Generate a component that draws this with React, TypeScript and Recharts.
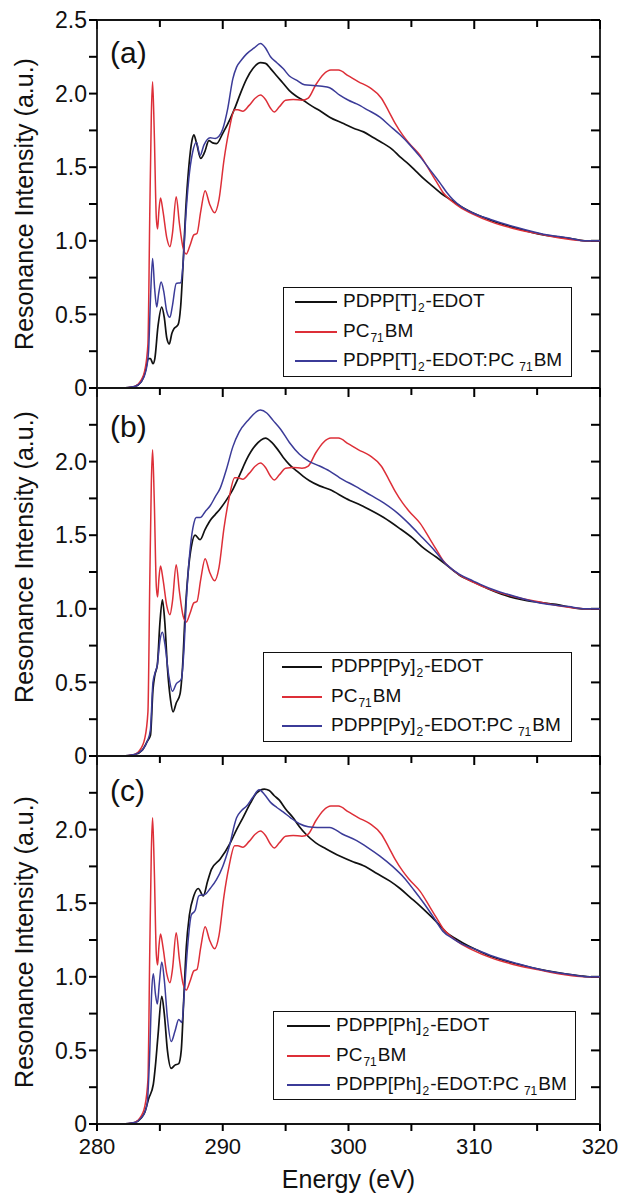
import React from 'react';
import { LineChart, Line, XAxis, YAxis, ReferenceLine, Legend } from 'recharts';

const FONT = '"Liberation Sans", Arial, Helvetica, sans-serif';
const BLACK = '#111111';
const RED = '#dd2f38';
const BLUE = '#3b3b98';
const AXIS = '#151515';

const energyTicks = [280, 285, 290, 295, 300, 305, 310, 315, 320];
const intensityTicks = [0, 0.25, 0.5, 0.75, 1.0, 1.25, 1.5, 1.75, 2.0, 2.25, 2.5];

// PC71BM (same reference curve in all three panels): [energy eV, intensity]
const pc71bm = [
  [280, 0], [282, 0], [282.8, 0.005], [283.4, 0.04], [283.8, 0.12], [284.05, 0.3], [284.2, 1.2],
  [284.32, 1.85], [284.42, 2.08], [284.55, 1.75], [284.72, 1.15], [284.82, 1.08], [284.92, 1.2],
  [285.05, 1.29], [285.25, 1.2], [285.55, 1.02], [285.8, 0.96], [286.0, 1.05], [286.3, 1.3],
  [286.55, 1.12], [286.85, 0.95], [287.1, 0.91], [287.4, 0.97], [287.7, 1.04], [287.95, 1.05],
  [288.25, 1.2], [288.6, 1.34], [288.95, 1.25], [289.35, 1.19], [289.7, 1.28], [290.1, 1.55],
  [290.5, 1.75], [290.95, 1.89], [291.2, 1.89], [291.6, 1.88], [292.1, 1.92], [292.6, 1.97],
  [293.0, 1.99], [293.4, 1.96], [293.8, 1.9], [294.1, 1.875], [294.5, 1.91], [295.0, 1.955],
  [295.6, 1.96], [296.3, 1.955], [296.8, 1.97], [297.4, 2.06], [298.0, 2.13], [298.6, 2.16],
  [299.2, 2.16], [300.0, 2.12], [300.8, 2.08], [301.7, 2.04], [302.6, 1.97], [303.2, 1.88],
  [303.7, 1.8], [304.3, 1.72], [304.8, 1.665], [305.7, 1.58], [306.5, 1.47], [307.0, 1.4],
  [307.5, 1.33], [308.2, 1.27], [309.0, 1.22], [309.8, 1.185], [311.3, 1.13], [313.1, 1.084],
  [315.0, 1.05], [317.1, 1.015], [318.7, 1.0], [320, 1.0],
];

// Panel (a)
const pdppT = [
  [280, 0], [282, 0], [283.0, 0.01], [283.5, 0.04], [283.8, 0.1], [284.1, 0.2], [284.25, 0.2],
  [284.45, 0.165], [284.6, 0.2], [284.85, 0.42], [285.15, 0.55], [285.35, 0.48], [285.55, 0.34],
  [285.75, 0.3], [285.95, 0.37], [286.1, 0.4], [286.45, 0.43], [286.65, 0.55], [286.85, 0.85],
  [287.05, 1.2], [287.3, 1.5], [287.55, 1.68], [287.7, 1.72], [287.9, 1.67], [288.25, 1.56],
  [288.55, 1.6], [288.9, 1.68], [289.2, 1.665], [289.5, 1.66], [290.0, 1.73], [290.6, 1.83],
  [291.0, 1.91], [291.4, 2.0], [291.9, 2.1], [292.4, 2.17], [293.0, 2.21], [293.4, 2.205],
  [293.8, 2.17], [294.3, 2.12], [294.8, 2.07], [295.3, 2.02], [295.8, 1.985], [296.4, 1.955],
  [297.0, 1.92], [297.7, 1.885], [298.5, 1.84], [299.5, 1.8], [300.4, 1.765], [301.2, 1.74],
  [302.0, 1.7], [302.8, 1.66], [303.5, 1.62], [304.1, 1.57], [304.8, 1.52], [305.4, 1.47],
  [306.0, 1.42], [306.7, 1.37], [307.4, 1.32], [308.1, 1.28], [308.9, 1.235], [309.7, 1.197],
  [311.3, 1.14], [313.4, 1.084], [315.5, 1.04], [317.6, 1.016], [318.8, 1.0], [320, 1.0],
];
const pdppTBlend = [
  [280, 0], [282, 0], [283.0, 0.01], [283.5, 0.04], [283.9, 0.12], [284.1, 0.25], [284.25, 0.6],
  [284.42, 0.88], [284.58, 0.68], [284.75, 0.55], [284.9, 0.64], [285.1, 0.72], [285.3, 0.66],
  [285.55, 0.52], [285.8, 0.48], [286.0, 0.56], [286.3, 0.71], [286.65, 0.715], [286.85, 0.85],
  [287.05, 1.15], [287.3, 1.42], [287.6, 1.6], [287.9, 1.67], [288.2, 1.58], [288.5, 1.65],
  [289.0, 1.7], [289.4, 1.695], [289.7, 1.71], [290.0, 1.76], [290.4, 1.9], [290.8, 2.1],
  [291.1, 2.18], [291.5, 2.23], [291.9, 2.27], [292.5, 2.31], [293.0, 2.34], [293.4, 2.31],
  [293.8, 2.25], [294.3, 2.21], [294.8, 2.17], [295.3, 2.12], [295.9, 2.09], [296.5, 2.06],
  [297.2, 2.055], [297.9, 2.05], [298.5, 2.04], [299.3, 1.99], [300.0, 1.955], [300.65, 1.93],
  [301.5, 1.89], [302.5, 1.84], [303.3, 1.78], [304.1, 1.72], [304.9, 1.65], [305.7, 1.57],
  [306.5, 1.48], [307.3, 1.39], [307.8, 1.33], [308.3, 1.28], [309.0, 1.23], [309.7, 1.197],
  [311.3, 1.145], [313.4, 1.09], [315.5, 1.045], [317.6, 1.018], [318.8, 1.0], [320, 1.0],
];

// Panel (b)
const pdppPy = [
  [280, 0], [282, 0], [283.0, 0.01], [283.6, 0.04], [284.0, 0.1], [284.25, 0.14], [284.45, 0.45],
  [284.6, 0.55], [284.8, 0.62], [285.0, 0.9], [285.2, 1.06], [285.4, 0.9], [285.6, 0.6],
  [285.85, 0.38], [286.05, 0.3], [286.3, 0.36], [286.6, 0.42], [286.8, 0.6], [287.0, 0.95],
  [287.25, 1.25], [287.5, 1.42], [287.8, 1.5], [288.2, 1.47], [288.6, 1.54], [289.0, 1.6],
  [289.4, 1.64], [289.8, 1.68], [290.3, 1.74], [290.8, 1.81], [291.4, 1.92], [291.9, 2.015],
  [292.6, 2.11], [293.4, 2.16], [293.9, 2.13], [294.3, 2.09], [294.8, 2.03], [295.3, 1.98],
  [295.9, 1.935], [296.4, 1.9], [296.9, 1.87], [297.7, 1.835], [298.5, 1.81], [299.8, 1.75],
  [301.3, 1.69], [302.8, 1.62], [304.0, 1.55], [305.1, 1.48], [306.0, 1.41], [307.0, 1.35],
  [307.9, 1.29], [308.8, 1.23], [310.0, 1.18], [311.0, 1.14], [312.5, 1.09], [313.9, 1.06],
  [316.5, 1.03], [318.6, 1.0], [320, 1.0],
];
const pdppPyBlend = [
  [280, 0], [282, 0], [283.0, 0.01], [283.6, 0.04], [284.0, 0.1], [284.25, 0.18], [284.45, 0.5],
  [284.6, 0.56], [284.8, 0.62], [285.0, 0.78], [285.2, 0.84], [285.4, 0.76], [285.7, 0.55],
  [286.0, 0.44], [286.3, 0.49], [286.7, 0.52], [286.9, 0.7], [287.1, 1.05], [287.4, 1.4],
  [287.7, 1.58], [287.9, 1.62], [288.2, 1.62], [288.6, 1.66], [289.0, 1.7], [289.4, 1.76],
  [289.8, 1.82], [290.3, 1.95], [290.8, 2.1], [291.3, 2.2], [292.0, 2.28], [293.0, 2.35],
  [293.5, 2.33], [294.0, 2.28], [294.6, 2.22], [295.3, 2.13], [296.1, 2.05], [296.9, 2.0],
  [297.7, 1.97], [298.5, 1.935], [299.3, 1.89], [300.6, 1.83], [301.8, 1.77], [302.8, 1.72],
  [303.9, 1.65], [304.9, 1.57], [305.8, 1.49], [306.7, 1.41], [307.8, 1.3], [308.8, 1.235],
  [309.9, 1.19], [311.2, 1.14], [312.6, 1.1], [315.2, 1.04], [317.5, 1.015], [318.8, 1.0],
  [320, 1.0],
];

// Panel (c)
const pdppPh = [
  [280, 0], [282, 0], [283.0, 0.01], [283.5, 0.04], [283.8, 0.08], [284.1, 0.17], [284.48, 0.27],
  [284.65, 0.4], [284.85, 0.6], [285.15, 0.867], [285.35, 0.75], [285.6, 0.5], [285.9, 0.378],
  [286.2, 0.4], [286.5, 0.41], [286.7, 0.5], [286.9, 0.85], [287.1, 1.2], [287.35, 1.42],
  [287.7, 1.55], [288.05, 1.6], [288.45, 1.55], [288.8, 1.65], [289.1, 1.73], [289.8, 1.8],
  [290.6, 1.91], [291.1, 2.0], [291.6, 2.08], [292.2, 2.18], [292.7, 2.25], [293.3, 2.275],
  [293.7, 2.265], [294.1, 2.23], [294.5, 2.2], [295.0, 2.14], [295.6, 2.08], [296.1, 2.02],
  [296.6, 1.97], [297.4, 1.91], [298.2, 1.87], [299.3, 1.82], [300.4, 1.78], [301.2, 1.755],
  [302.3, 1.7], [303.3, 1.65], [304.1, 1.6], [304.9, 1.54], [305.7, 1.48], [306.5, 1.415],
  [307.2, 1.355], [307.8, 1.3], [308.5, 1.26], [309.1, 1.23], [310.0, 1.19], [311.0, 1.15],
  [313.4, 1.087], [315.8, 1.04], [318.4, 1.007], [319.2, 1.0], [320, 1.0],
];
const pdppPhBlend = [
  [280, 0], [282, 0], [283.0, 0.01], [283.5, 0.04], [283.8, 0.08], [284.0, 0.145], [284.2, 0.5],
  [284.35, 0.9], [284.48, 1.02], [284.65, 0.88], [284.8, 0.815], [284.95, 0.95], [285.15, 1.1],
  [285.35, 0.98], [285.6, 0.72], [285.9, 0.56], [286.2, 0.63], [286.5, 0.71], [286.75, 0.69],
  [286.95, 0.9], [287.2, 1.2], [287.5, 1.42], [287.8, 1.45], [288.1, 1.55], [288.6, 1.56],
  [289.0, 1.6], [289.5, 1.66], [290.0, 1.75], [290.5, 1.88], [291.1, 2.08], [291.5, 2.13],
  [291.9, 2.16], [292.4, 2.22], [292.9, 2.27], [293.3, 2.24], [293.8, 2.185], [294.3, 2.15],
  [294.8, 2.12], [295.4, 2.08], [296.1, 2.04], [296.8, 2.02], [297.5, 2.015], [298.5, 2.015],
  [299.5, 1.97], [300.65, 1.925], [301.5, 1.88], [302.5, 1.82], [303.5, 1.75], [304.4, 1.675],
  [305.2, 1.59], [305.95, 1.505], [306.8, 1.4], [307.5, 1.31], [308.3, 1.26], [309.1, 1.22],
  [310.0, 1.19], [311.3, 1.145], [313.4, 1.09], [315.5, 1.045], [317.6, 1.016], [319, 1.0],
  [320, 1.0],
];

const toRows = (pts: number[][]) => pts.map(([e, v]) => ({ e, v }));

const PAGE_W = 618;
const PLOT_LEFT = 97;
const PLOT_RIGHT = 600;
const PLOT_W = PLOT_RIGHT - PLOT_LEFT;
const PLOT_H = 368;
const X_MIN = 280;
const X_MAX = 320;
const Y_MIN = 0;
const Y_MAX = 2.5;
const TICK_COLOR = '#000';
const TICK_W = 2;

// Each panel is its own chart; positions are in the chart's own pixels.
const panels = [
  {
    key: 'a', letter: '(a)', unit: 'T', polymer: pdppT, blend: pdppTBlend,
    chartTop: 0, chartH: 400, marginTop: 20, xAxisH: 12,
    letterBaseline: 63, yLabelCenter: 204, showTopLabel: true, showX: false,
    legend: { left: 283, top: 287, width: 289, height: 90, lineStart: 12, lineLen: 42, textStart: 60 },
  },
  {
    key: 'b', letter: '(b)', unit: 'Py', polymer: pdppPy, blend: pdppPyBlend,
    chartTop: 376, chartH: 392, marginTop: 12, xAxisH: 12,
    letterBaseline: 61, yLabelCenter: 181, showTopLabel: false, showX: false,
    legend: { left: 263, top: 276, width: 309, height: 90, lineStart: 19, lineLen: 40, textStart: 68 },
  },
  {
    key: 'c', letter: '(c)', unit: 'Ph', polymer: pdppPh, blend: pdppPhBlend,
    chartTop: 744, chartH: 452, marginTop: 12, xAxisH: 72,
    letterBaseline: 57, yLabelCenter: 198, showTopLabel: false, showX: true,
    legend: { left: 273, top: 267, width: 303, height: 89, lineStart: 14, lineLen: 43, textStart: 63 },
  },
];

const Sub = ({ children, gap }: any) => (
  <span style={{ fontSize: 12, position: 'relative', top: 5, marginLeft: gap ? 5 : 1, marginRight: 1 }}>{children}</span>
);

const LegendBox = ({ panel }: any) => {
  const L = panel.legend;
  const rows = [
    { color: BLACK, content: <>PDPP[{panel.unit}]<Sub>2</Sub>-EDOT</> },
    { color: RED, content: <>PC<Sub>71</Sub>BM</> },
    { color: BLUE, content: <>PDPP[{panel.unit}]<Sub>2</Sub>-EDOT:PC<Sub gap>71</Sub>BM</> },
  ];
  return (
    <div
      style={{
        width: L.width, height: L.height, boxSizing: 'border-box', border: '1.6px solid #111',
        background: '#fff', position: 'relative', fontFamily: FONT, fontSize: 19, color: '#111',
      }}
    >
      {rows.map((r, i) => (
        <div
          key={i}
          style={{
            position: 'absolute', left: 0, top: 14 + i * 29.5 - 12, height: 24,
            display: 'flex', alignItems: 'center', whiteSpace: 'nowrap',
          }}
        >
          <div style={{ marginLeft: L.lineStart - 1, width: L.lineLen, height: 2, background: r.color }} />
          <span style={{ marginLeft: L.textStart - L.lineStart - L.lineLen, lineHeight: '24px' }}>{r.content}</span>
        </div>
      ))}
    </div>
  );
};

const isHalf = (v: number) => Math.abs(v * 2 - Math.round(v * 2)) < 1e-6;

// Inward tick marks on the top and right edges of the frame.
const innerTicks = () => {
  const dx = (X_MAX - X_MIN) / PLOT_W;
  const dy = (Y_MAX - Y_MIN) / PLOT_H;
  const segs: { x: number; y: number }[][] = [];
  intensityTicks.forEach((v) => segs.push([{ x: X_MAX - 9 * dx, y: v }, { x: X_MAX, y: v }]));
  energyTicks.forEach((e) => {
    const len = e % 10 === 0 ? 9 : 7;
    segs.push([{ x: e, y: Y_MAX }, { x: e, y: Y_MAX - len * dy }]);
  });
  return segs;
};

const Panel = ({ panel }: any) => {
  const segs = innerTicks();
  const yFmt = (v: number) => {
    if (!isHalf(v)) return '';
    if (!panel.showTopLabel && v > 2.4) return '';
    return v === 0 ? '0' : v.toFixed(1);
  };
  return (
    <div style={{ position: 'absolute', left: 0, top: panel.chartTop, width: PAGE_W, height: panel.chartH }}>
      <LineChart
        width={PAGE_W}
        height={panel.chartH}
        margin={{ top: panel.marginTop, right: 618 - PLOT_RIGHT, bottom: 0, left: 0 }}
      >
        <XAxis
          dataKey="e"
          type="number"
          domain={[X_MIN, X_MAX]}
          ticks={energyTicks}
          interval={0}
          height={panel.xAxisH}
          allowDataOverflow
          axisLine={{ stroke: AXIS, strokeWidth: 1.8 }}
          tickLine={panel.showX ? { stroke: TICK_COLOR, strokeWidth: TICK_W } : false}
          tickSize={panel.showX ? 7 : 0}
          tickMargin={7}
          tick={panel.showX ? { fill: '#111', fontSize: 22, fontFamily: FONT } : false}
          tickFormatter={(v: number) => (v % 10 === 0 ? String(v) : '')}
          label={
            panel.showX
              ? () => (
                  <text x={(PLOT_LEFT + PLOT_RIGHT) / 2} y={1188 - panel.chartTop} textAnchor="middle" fontSize={25} fontFamily={FONT} fill="#111">
                    Energy (eV)
                  </text>
                )
              : undefined
          }
        />
        <YAxis
          type="number"
          domain={[Y_MIN, Y_MAX]}
          ticks={intensityTicks}
          interval={0}
          width={PLOT_LEFT}
          allowDataOverflow
          axisLine={{ stroke: AXIS, strokeWidth: 1.8 }}
          tickLine={{ stroke: TICK_COLOR, strokeWidth: TICK_W }}
          tickSize={8}
          tickMargin={2}
          tick={{ fill: '#111', fontSize: 23, fontFamily: FONT }}
          tickFormatter={yFmt}
          label={() => (
            <g>
              <text
                x={33}
                y={panel.yLabelCenter}
                transform={`rotate(-90, 33, ${panel.yLabelCenter})`}
                textAnchor="middle"
                fontSize={25}
                fontFamily={FONT}
                fill="#111"
              >
                Resonance Intensity (a.u.)
              </text>
              <text x={110} y={panel.letterBaseline} fontSize={30} fontFamily={FONT} fill="#111">
                {panel.letter}
              </text>
            </g>
          )}
        />
        <ReferenceLine y={Y_MAX} stroke={AXIS} strokeWidth={1.8} />
        <ReferenceLine x={X_MAX} stroke={AXIS} strokeWidth={1.8} />
        {segs.map((s, i) => (
          <ReferenceLine key={`t${i}`} segment={s} stroke={TICK_COLOR} strokeWidth={TICK_W} ifOverflow="visible" />
        ))}
        <Legend
          layout="vertical"
          align="center"
          verticalAlign="middle"
          wrapperStyle={{ left: panel.legend.left, top: panel.legend.top, width: panel.legend.width, height: panel.legend.height }}
          content={() => <LegendBox panel={panel} />}
        />
        <Line
          data={toRows(panel.polymer)}
          dataKey="v"
          name={`PDPP[${panel.unit}]2-EDOT`}
          type="monotone"
          stroke={BLACK}
          strokeWidth={1.7}
          dot={false}
          isAnimationActive={false}
        />
        <Line
          data={toRows(pc71bm)}
          dataKey="v"
          name="PC71BM"
          type="monotone"
          stroke={RED}
          strokeWidth={1.5}
          dot={false}
          isAnimationActive={false}
        />
        <Line
          data={toRows(panel.blend)}
          dataKey="v"
          name={`PDPP[${panel.unit}]2-EDOT:PC71BM`}
          type="monotone"
          stroke={BLUE}
          strokeWidth={1.5}
          dot={false}
          isAnimationActive={false}
        />
      </LineChart>
    </div>
  );
}

export default function App() {
  return (
    <div
      style={{
        position: 'absolute', left: 0, top: 0, width: PAGE_W, height: 1196,
        background: '#fff', fontFamily: FONT, overflow: 'hidden',
      }}
    >
      {panels.map((p) => (
        <Panel key={p.key} panel={p} />
      ))}
    </div>
  );
}
